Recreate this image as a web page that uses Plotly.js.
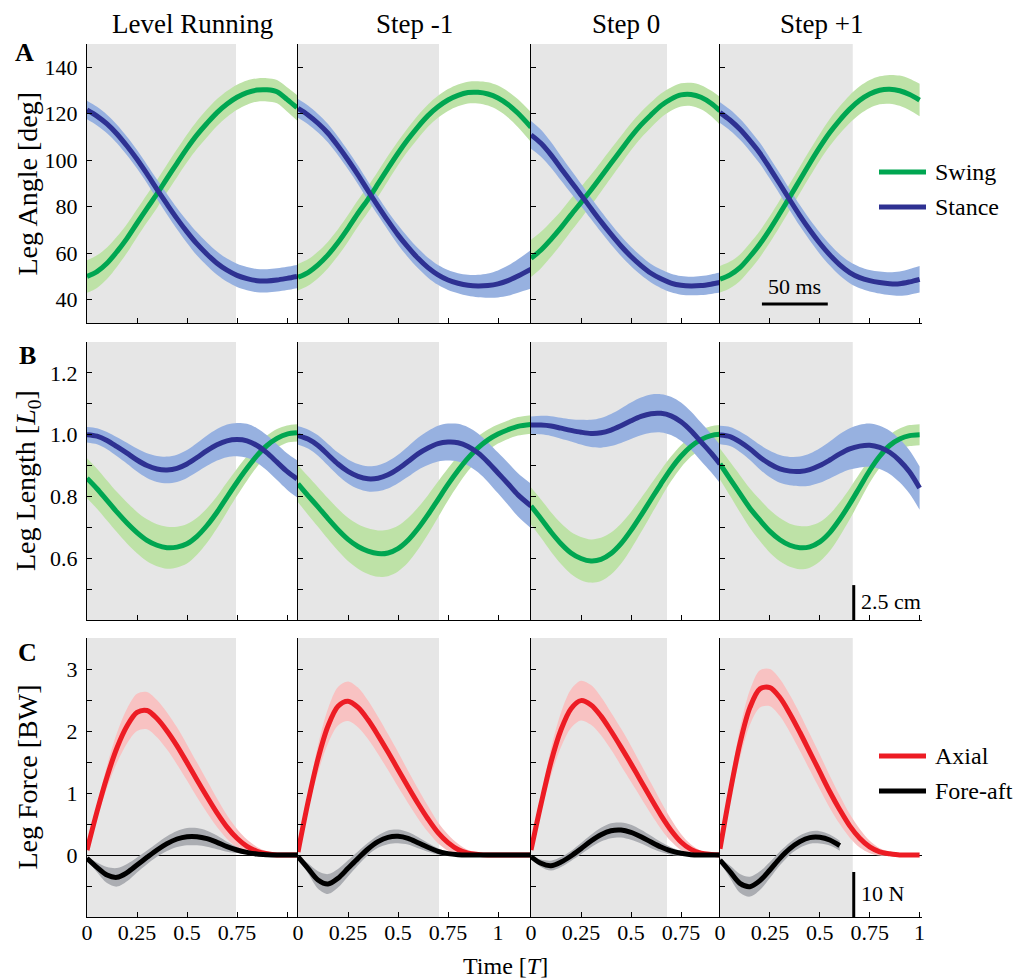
<!DOCTYPE html>
<html><head><meta charset="utf-8">
<script src="https://cdn.plot.ly/plotly-3.0.1.min.js"></script>
<style>html,body{margin:0;padding:0;background:#fff}#chart{width:1017px;height:980px}</style>
</head><body><div id="chart"></div><script>
// ---------------- data ----------------
const columnTitles = ["Level Running", "Step -1", "Step 0", "Step +1"];
const stanceEnd = [0.745, 0.705, 0.68, 0.665];
const times = [
  [0,0.05,0.1,0.15,0.2,0.25,0.3,0.35,0.4,0.45,0.5,0.55,0.6,0.65,0.7,0.75,0.8,0.85,0.9,0.95,1.0,1.05],
  [0,0.05,0.1,0.15,0.2,0.25,0.3,0.35,0.4,0.45,0.5,0.55,0.6,0.65,0.7,0.75,0.8,0.85,0.9,0.95,1.0,1.05,1.1,1.165],
  [0,0.05,0.1,0.15,0.2,0.25,0.3,0.35,0.4,0.45,0.5,0.55,0.6,0.65,0.7,0.75,0.8,0.85,0.9,0.945],
  [0,0.05,0.1,0.15,0.2,0.25,0.3,0.35,0.4,0.45,0.5,0.55,0.6,0.65,0.7,0.75,0.8,0.85,0.9,0.95,1.0]
];
// A: leg angle [deg]
const swingAngle = [
  [50.0,52.1,55.7,60.7,66.4,72.9,79.3,85.5,92.2,98.7,105.1,110.9,115.9,120.5,124.2,127.1,129.1,130.2,130.3,129.5,126.2,122.6],
  [49.7,51.7,55.0,59.3,64.6,70.7,77.2,83.2,89.8,96.5,103.0,109.0,114.4,119.2,123.0,125.9,127.9,129.1,129.2,128.5,126.8,124.0,120.2,114.2],
  [57.8,61.4,66.0,71.0,76.5,81.8,87.2,92.9,98.7,104.4,110.1,115.2,119.5,123.5,126.3,128.1,128.3,127.1,124.5,121.2],
  [48.8,50.7,53.8,58.6,64.0,70.3,77.2,84.3,91.5,98.7,105.6,111.9,117.3,122.0,125.8,128.5,130.1,130.5,129.9,128.3,125.9]
];
const swingAngleSd = [
  [7,7,6.8,6.5,6.2,6,6,6,6,6,6,6,6,5.8,5.6,5.4,5.2,5,5,5,5.2,5.5],
  [5.7,5.7,5.7,5.7,5.7,5.7,5.7,5.6,5.5,5.4,5.2,5,5,4.8,4.7,4.7,4.7,4.7,4.8,5,5.3,5.6,6,6.4],
  [8,7.8,7.5,7.2,7,6.8,6.6,6.4,6.2,6,5.8,5.6,5.4,5.2,5,5,5,5.2,5.5,6],
  [5.7,5.7,5.7,5.7,5.7,5.7,5.7,5.7,5.7,5.7,5.7,5.8,5.9,6,6,6,6,6.2,6.5,6.8,7]
];
const stanceAngle = [
  [121.6,119.0,115.6,111.3,106.1,100.4,94.1,87.5,81.1,74.9,69.2,64.0,59.6,55.7,52.7,50.5,49.1,48.2,48.1,48.5,49.2,50.0],
  [122.3,119.5,115.9,111.6,106.1,100.1,93.7,86.9,80.3,73.9,67.9,62.6,57.8,53.8,50.7,48.5,47.1,46.2,45.9,46.1,46.8,48.2,50.2,53.1],
  [110.9,107.3,102.3,96.5,90.8,85.1,79.3,73.6,68.2,63.1,58.6,54.7,51.4,49.0,47.2,46.2,45.9,46.1,46.7,47.4],
  [120.5,117.3,113.3,108.4,103.0,96.5,89.8,82.9,76.2,70.0,64.3,59.3,55.0,51.7,49.5,48.2,47.4,46.9,46.9,47.7,48.8]
];
const stanceAngleSd = [
  [4,4,4,4,4,4,4,4.2,4.4,4.6,4.8,5,5,5,5,5,5,5,5,5,5,5],
  [4,4,4,4,4,4,4,4,4,4,4.2,4.3,4.3,4.3,4.3,4.3,4.3,4.5,4.8,5.2,5.8,6.5,7.2,8.3],
  [6,5.8,5.5,5.2,5,4.8,4.6,4.5,4.4,4.3,4.2,4.1,4,4,4,4,4,4.1,4.2,4.3],
  [4.5,4.5,4.5,4.5,4.5,4.5,4.5,4.5,4.5,4.5,4.6,4.6,4.6,4.6,4.6,4.6,4.7,4.9,5.2,5.5,5.7]
];
// B: leg length [L0]
const swingLength = [
  [0.859,0.825,0.787,0.749,0.714,0.683,0.658,0.642,0.634,0.636,0.647,0.671,0.706,0.749,0.798,0.846,0.891,0.932,0.965,0.988,1.002,1.006],
  [0.841,0.803,0.766,0.728,0.692,0.661,0.638,0.623,0.615,0.617,0.631,0.658,0.696,0.741,0.790,0.839,0.884,0.924,0.957,0.983,1.002,1.016,1.027,1.033],
  [0.769,0.728,0.685,0.647,0.617,0.599,0.591,0.596,0.615,0.647,0.690,0.739,0.790,0.841,0.889,0.930,0.962,0.984,0.997,1.001],
  [0.905,0.857,0.809,0.762,0.723,0.687,0.660,0.642,0.634,0.637,0.653,0.683,0.726,0.776,0.830,0.884,0.930,0.965,0.986,0.997,1.000]
];
const swingLengthSd = [
  [0.065,0.065,0.065,0.065,0.066,0.067,0.068,0.068,0.068,0.066,0.064,0.06,0.056,0.052,0.048,0.044,0.04,0.036,0.032,0.03,0.028,0.028],
  [0.06,0.062,0.064,0.066,0.068,0.07,0.072,0.074,0.075,0.075,0.074,0.072,0.068,0.063,0.058,0.052,0.047,0.042,0.038,0.034,0.031,0.03,0.03,0.03],
  [0.06,0.062,0.064,0.066,0.068,0.07,0.07,0.07,0.068,0.065,0.06,0.055,0.05,0.045,0.04,0.036,0.033,0.031,0.03,0.03],
  [0.05,0.055,0.06,0.064,0.067,0.069,0.07,0.07,0.07,0.068,0.064,0.06,0.055,0.05,0.045,0.04,0.037,0.035,0.034,0.034,0.034]
];
const stanceLength = [
  [1.000,0.995,0.981,0.961,0.940,0.918,0.900,0.889,0.886,0.891,0.905,0.926,0.948,0.967,0.980,0.984,0.980,0.965,0.941,0.911,0.881,0.857],
  [0.997,0.986,0.965,0.935,0.905,0.881,0.865,0.857,0.859,0.870,0.889,0.913,0.938,0.957,0.971,0.976,0.974,0.962,0.941,0.911,0.876,0.841,0.805,0.769],
  [1.031,1.031,1.028,1.021,1.014,1.008,1.004,1.006,1.015,1.029,1.045,1.059,1.068,1.069,1.061,1.042,1.013,0.977,0.941,0.905],
  [0.999,0.994,0.977,0.954,0.927,0.905,0.889,0.882,0.881,0.887,0.900,0.918,0.938,0.954,0.963,0.966,0.959,0.943,0.916,0.879,0.827]
];
const stanceLengthSd = [
  [0.025,0.026,0.028,0.031,0.034,0.037,0.04,0.042,0.043,0.044,0.045,0.047,0.049,0.051,0.053,0.054,0.055,0.056,0.057,0.058,0.059,0.06],
  [0.03,0.031,0.033,0.035,0.037,0.039,0.04,0.041,0.042,0.044,0.046,0.049,0.052,0.055,0.058,0.06,0.061,0.062,0.063,0.064,0.066,0.068,0.07,0.072],
  [0.028,0.03,0.032,0.034,0.036,0.04,0.044,0.048,0.052,0.056,0.059,0.061,0.062,0.062,0.062,0.062,0.062,0.062,0.062,0.062],
  [0.03,0.031,0.033,0.036,0.04,0.043,0.045,0.046,0.048,0.052,0.056,0.06,0.064,0.067,0.069,0.07,0.07,0.07,0.07,0.07,0.07]
];
// C: leg force [BW]
const axialForce = [
  [0.08,0.70,1.26,1.73,2.08,2.30,2.33,2.20,2.00,1.76,1.49,1.21,0.94,0.68,0.45,0.27,0.14,0.06,0.02,0,0,0],
  [0.05,0.85,1.55,2.08,2.40,2.48,2.38,2.18,1.93,1.66,1.38,1.10,0.83,0.58,0.36,0.20,0.09,0.03,0.01,0,0,0,0,0],
  [0.08,0.82,1.50,2.02,2.36,2.49,2.42,2.24,2.00,1.74,1.47,1.19,0.91,0.64,0.40,0.21,0.09,0.03,0.01,0],
  [0.10,1.00,1.80,2.38,2.68,2.70,2.54,2.28,1.98,1.66,1.34,1.02,0.73,0.47,0.27,0.13,0.05,0.02,0,0,0]
];
const axialForceSd = [
  [0.02,0.1,0.18,0.24,0.28,0.3,0.3,0.3,0.3,0.3,0.29,0.28,0.26,0.23,0.19,0.15,0.11,0.07,0.04,0.02,0.01,0.01],
  [0.02,0.12,0.22,0.28,0.31,0.32,0.32,0.31,0.3,0.29,0.28,0.26,0.24,0.21,0.17,0.13,0.09,0.05,0.03,0.01,0,0,0,0],
  [0.02,0.12,0.22,0.28,0.31,0.32,0.32,0.31,0.3,0.3,0.29,0.27,0.25,0.22,0.18,0.13,0.08,0.04,0.02,0.01],
  [0.02,0.14,0.24,0.28,0.3,0.3,0.3,0.3,0.3,0.29,0.28,0.26,0.23,0.19,0.15,0.1,0.06,0.03,0.01,0,0]
];
const foreAftForce = [
  [-0.054,-0.199,-0.323,-0.360,-0.285,-0.161,-0.038,0.081,0.183,0.258,0.296,0.296,0.263,0.204,0.134,0.081,0.043,0.016,0.005,0,0,0],
  [-0.027,-0.215,-0.403,-0.468,-0.376,-0.215,-0.054,0.097,0.215,0.285,0.301,0.269,0.199,0.124,0.059,0.022,0.005,0,0,0,0,0,0,0],
  [-0.027,-0.134,-0.172,-0.113,-0.016,0.102,0.226,0.328,0.392,0.403,0.366,0.296,0.210,0.129,0.065,0.027,0.005,0,0,0],
  [-0.081,-0.269,-0.457,-0.511,-0.414,-0.242,-0.054,0.102,0.215,0.280,0.285,0.242,0.150]
];
const foreAftForceSd = [
  [0.02,0.08,0.13,0.15,0.14,0.12,0.11,0.11,0.12,0.13,0.14,0.14,0.13,0.11,0.08,0.05,0.03,0.02,0.01,0,0,0],
  [0.02,0.08,0.14,0.16,0.15,0.13,0.11,0.1,0.1,0.11,0.11,0.1,0.09,0.07,0.05,0.03,0.02,0.01,0,0,0,0,0,0],
  [0.02,0.06,0.08,0.08,0.08,0.09,0.1,0.11,0.12,0.12,0.12,0.11,0.1,0.08,0.06,0.04,0.02,0.01,0,0],
  [0.03,0.1,0.15,0.16,0.15,0.13,0.11,0.1,0.1,0.1,0.1,0.09,0.08]
];
const rowTitles = ["Leg Angle [deg]", "Leg Length [<i>L</i><sub>0</sub>]", "Leg Force [BW]"];
const panelLetters = ["A", "B", "C"];
const seriesNames = [["Swing", "Stance"], ["Swing", "Stance"], ["Axial", "Fore-aft"]];
const xMajorTicks = [[0,0.25,0.5,0.75], [0,0.25,0.5,0.75,1], [0,0.25,0.5,0.75], [0,0.25,0.5,0.75,1]];
const xMajorText = [["0","0.25","0.5","0.75"], ["0","0.25","0.5","0.75","1"], ["0","0.25","0.5","0.75"], ["0","0.25","0.5","0.75","1"]];
const xMinorTicks = [[1], [], [], []];
const yMajorTicks = [[40,60,80,100,120,140], [0.6,0.8,1.0,1.2], [0,1,2,3]];
const yMajorText = [["40","60","80","100","120","140"], ["0.6","0.8","1.0","1.2"], ["0","1","2","3"]];
const yMinorTicks = [[], [0.5,0.7,0.9,1.1], [-0.5,0.5,1.5,2.5]];
const scaleBarLabels = ["50 ms", "2.5 cm", "10 N"];

// ---------------- layout geometry ----------------
const W = 1017, H = 980;
const colPx = [[87,298],[298,531],[531,720],[720,922]];
const rowPx = [[44,323],[342,620],[638,917]];
const xMax = [1.055, 1.165, 0.945, 1.012];
const yRanges = [[30,150],[0.4,1.3],[-1,3.5]];
const FONT = "Liberation Serif, Times New Roman, serif";
const lineColors = [["#00a651","#2e3192"],["#00a651","#2e3192"],["#ed1c24","#000000"]];
const bandColors = [["#bee2a7","#97b1e0"],["#bee2a7","#97b1e0"],["#f8c2c2","#abadb2"]];
const means = [[swingAngle, stanceAngle],[swingLength, stanceLength],[axialForce, foreAftForce]];
const sds = [[swingAngleSd, stanceAngleSd],[swingLengthSd, stanceLengthSd],[axialForceSd, foreAftForceSd]];

const traces = [], shapes = [], annotations = [];
const layout = {
  width: W, height: H, margin: {l:0, r:0, t:0, b:0},
  paper_bgcolor: "#ffffff", plot_bgcolor: "rgba(0,0,0,0)", showlegend: false,
  font: {family: FONT, size: 22, color: "#000"}
};

const px = v => v / W, py = v => 1 - v / H;
const minorSpec = vals => vals.length ? {tickmode: "array", tickvals: vals, ticks: "inside", ticklen: 5,
  tickwidth: 1, tickcolor: "#000", showgrid: false} : undefined;

for (let r = 0; r < 3; r++) {
  for (let c = 0; c < 4; c++) {
    const k = r * 4 + c + 1;
    const xa = "x" + (k === 1 ? "" : k), ya = "y" + (k === 1 ? "" : k);
    const xName = "xaxis" + (k === 1 ? "" : k), yName = "yaxis" + (k === 1 ? "" : k);
    layout[xName] = {
      domain: [px(colPx[c][0]), px(colPx[c][1])], range: [0, xMax[c]], anchor: ya,
      showline: true, linecolor: "#000", linewidth: 1, mirror: false,
      ticks: "inside", ticklen: 5, tickwidth: 1, tickcolor: "#000",
      tickmode: "array", tickvals: xMajorTicks[c], ticktext: xMajorText[c],
      showticklabels: r === 2, ticklabelstandoff: -4,
      tickfont: {family: FONT, size: 22}, showgrid: false, zeroline: false, fixedrange: true
    };
    const xm = minorSpec(xMinorTicks[c]);
    if (xm) layout[xName].minor = xm;
    layout[yName] = {
      domain: [py(rowPx[r][1]), py(rowPx[r][0])], range: yRanges[r], anchor: xa,
      showline: true, linecolor: "#000", linewidth: 1,
      ticks: "inside", ticklen: 5, tickwidth: 1, tickcolor: "#000",
      tickmode: "array", tickvals: yMajorTicks[r], ticktext: yMajorText[r],
      showticklabels: c === 0, ticklabelstandoff: 4,
      tickfont: {family: FONT, size: 22}, showgrid: false,
      zeroline: r === 2, zerolinecolor: "#000", zerolinewidth: 1, fixedrange: true
    };
    const ym = minorSpec(yMinorTicks[r]);
    if (ym) layout[yName].minor = ym;
    // stance shading
    shapes.push({type: "rect", xref: xa, yref: ya + " domain", x0: 0, x1: stanceEnd[c], y0: 0, y1: 1,
      fillcolor: "#e6e6e6", line: {width: 0}, layer: "below"});
    // bands
    for (let s = 0; s < 2; s++) {
      const m = means[r][s][c], sd = sds[r][s][c];
      const t = times[c].slice(0, m.length);
      traces.push({x: t, y: m.map((v,i) => v - sd[i]), xaxis: xa, yaxis: ya, mode: "lines",
        line: {width: 0, shape: "spline", smoothing: 0.9}, hoverinfo: "skip", showlegend: false});
      traces.push({x: t, y: m.map((v,i) => v + sd[i]), xaxis: xa, yaxis: ya, mode: "lines",
        line: {width: 0, shape: "spline", smoothing: 0.9}, fill: "tonexty", fillcolor: bandColors[r][s],
        hoverinfo: "skip", showlegend: false});
    }
    // mean lines
    for (let s = 0; s < 2; s++) {
      const m = means[r][s][c];
      const t = times[c].slice(0, m.length);
      traces.push({x: t, y: m, xaxis: xa, yaxis: ya, mode: "lines", name: seriesNames[r][s],
        line: {width: 5, color: lineColors[r][s], shape: "spline", smoothing: 0.9}, showlegend: false});
    }
  }
}

// column titles
columnTitles.forEach((txt, c) => annotations.push({text: txt, xref: "paper", yref: "paper",
  x: px((colPx[c][0] + colPx[c][1]) / 2), y: py(24), xanchor: "center", yanchor: "middle",
  showarrow: false, font: {family: FONT, size: 27}}));
// panel letters & row titles
const letterPos = [[24,53],[27,355],[27,652]];
panelLetters.forEach((L, r) => annotations.push({text: "<b>" + L + "</b>", xref: "paper", yref: "paper",
  x: px(letterPos[r][0]), y: py(letterPos[r][1]), xanchor: "center", yanchor: "middle", showarrow: false,
  font: {family: FONT, size: 26}}));
rowTitles.forEach((txt, r) => annotations.push({text: txt, xref: "paper", yref: "paper", textangle: -90,
  x: px(27), y: py((rowPx[r][0] + rowPx[r][1]) / 2), xanchor: "center", yanchor: "middle", showarrow: false,
  font: {family: FONT, size: 28}}));
// x title
annotations.push({text: "Time [<i>T</i>]", xref: "paper", yref: "paper", x: px(505), y: py(966),
  xanchor: "center", yanchor: "middle", showarrow: false, font: {family: FONT, size: 24}});

// legends (drawn as key lines + labels)
const legendRows = [[172, 207], null, [756, 791]];
[0, 2].forEach(r => {
  for (let s = 0; s < 2; s++) {
    const yy = legendRows[r][s];
    shapes.push({type: "line", xref: "paper", yref: "paper", x0: px(879), x1: px(926), y0: py(yy), y1: py(yy),
      line: {color: lineColors[r][s], width: 5}});
    annotations.push({text: seriesNames[r][s], xref: "paper", yref: "paper", x: px(933), y: py(yy),
      xanchor: "left", yanchor: "middle", showarrow: false, font: {family: FONT, size: 24}});
  }
});

// scale bars (col 4)
shapes.push({type: "line", xref: "x4", yref: "y4", x0: 0.21, x1: 0.54, y0: 38.2, y1: 38.2, line: {color: "#000", width: 3}});
annotations.push({text: scaleBarLabels[0], xref: "x4", yref: "y4", x: 0.375, y: 38.2, yshift: 3,
  xanchor: "center", yanchor: "bottom", showarrow: false, font: {family: FONT, size: 22}});
shapes.push({type: "line", xref: "x8", yref: "y8", x0: 0.67, x1: 0.67, y0: 0.4, y1: 0.513, line: {color: "#000", width: 3}});
annotations.push({text: scaleBarLabels[1], xref: "x8", yref: "y8", x: 0.67, y: 0.461, xshift: 5,
  xanchor: "left", yanchor: "middle", showarrow: false, font: {family: FONT, size: 22}});
shapes.push({type: "line", xref: "x12", yref: "y12", x0: 0.67, x1: 0.67, y0: -1, y1: -0.274, line: {color: "#000", width: 3}});
annotations.push({text: scaleBarLabels[2], xref: "x12", yref: "y12", x: 0.67, y: -0.613, xshift: 5,
  xanchor: "left", yanchor: "middle", showarrow: false, font: {family: FONT, size: 22}});

layout.shapes = shapes;
layout.annotations = annotations;
Plotly.newPlot("chart", traces, layout, {displayModeBar: false, staticPlot: true});
</script></body></html>
